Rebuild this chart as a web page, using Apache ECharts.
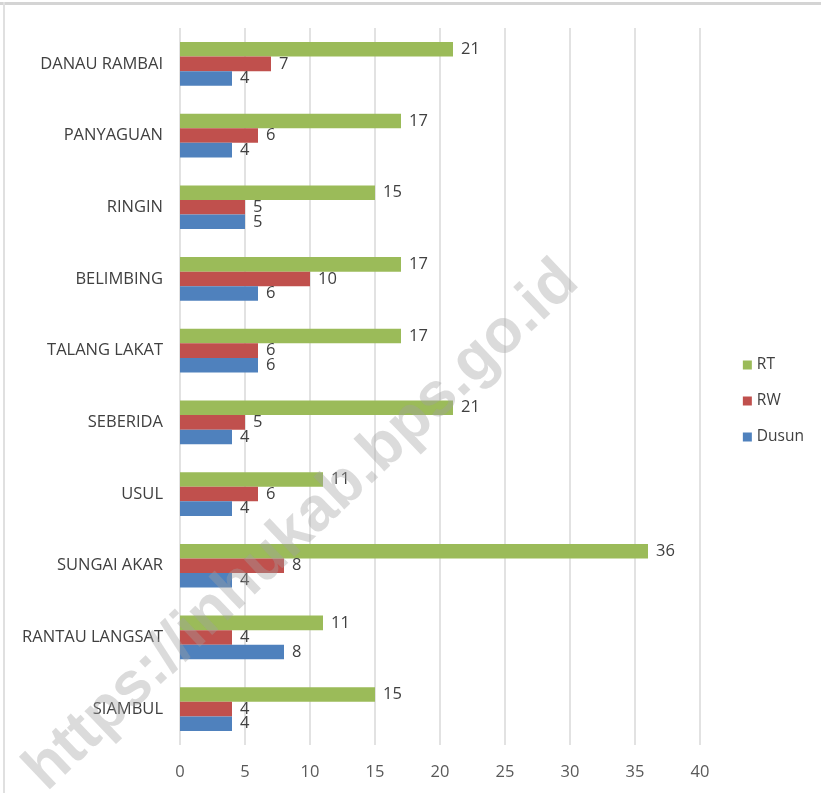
<!DOCTYPE html>
<html><head><meta charset="utf-8">
<script src="https://cdn.jsdelivr.net/npm/echarts@6/dist/echarts.min.js"></script>
<style>html,body{margin:0;padding:0;background:#fff}#c{width:821px;height:793px}</style>
</head><body><div id="c"></div>
<script>
var categories = ['SIAMBUL','RANTAU LANGSAT','SUNGAI AKAR','USUL','SEBERIDA','TALANG LAKAT','BELIMBING','RINGIN','PANYAGUAN','DANAU RAMBAI'];
var dusun = [4,8,4,4,4,6,6,5,4,4];
var rw = [4,4,8,6,5,6,10,5,6,7];
var rt = [15,11,36,11,21,17,17,15,17,21];
var xTicks = [0,5,10,15,20,25,30,35,40];

var font = '"Open Sans",sans-serif';
var chart = echarts.init(document.getElementById('c'));
var lbl = {show:true, position:'right', color:'#404040', fontSize:16.5, fontFamily:font, distance:8};
chart.setOption({
  animation:false,
  grid:{left:180, right:121, top:28, bottom:48},
  legend:{orient:'vertical', right:12, top:352, itemWidth:9, itemHeight:9, itemGap:20,
    icon:'rect', data:['RT','RW','Dusun'],
    textStyle:{color:'#404040', fontSize:15.5, fontFamily:font}},
  xAxis:{type:'value', min:xTicks[0], max:xTicks[xTicks.length-1], interval:5,
    axisLine:{show:false}, axisTick:{show:false},
    axisLabel:{color:'#595959', fontSize:16.5, fontFamily:font, margin:19},
    splitLine:{lineStyle:{color:'#d9d9d9', width:1.5}}},
  yAxis:{type:'category', data:categories,
    axisLine:{show:false}, axisTick:{show:false},
    axisLabel:{color:'#404040', fontSize:16.5, fontFamily:font, margin:17}},
  series:[
    {name:'RT', type:'bar', data:rt, barGap:'0%', barCategoryGap:'39%', itemStyle:{color:'#9BBB59'}, label:lbl},
    {name:'RW', type:'bar', data:rw, barGap:'0%', barCategoryGap:'39%', itemStyle:{color:'#C0504D'}, label:lbl},
    {name:'Dusun', type:'bar', data:dusun, barGap:'0%', barCategoryGap:'39%', itemStyle:{color:'#4F81BD'}, label:lbl}
  ],
  graphic:[
    {type:'rect', shape:{x:0,y:2,width:821,height:3}, style:{fill:'#d4d4d4'}, z:100},
    {type:'rect', shape:{x:3,y:2,width:2,height:791}, style:{fill:'#e0e0e0'}, z:100},
    {type:'text', x:302, y:526, rotation:0.76, z:100,
      style:{text:'https://inhukab.bps.go.id', fill:'rgba(160,160,160,0.38)', font:'bold 62px "Liberation Sans",Arial,sans-serif', textAlign:'center', textVerticalAlign:'middle'}}
  ]
});
</script></body></html>
